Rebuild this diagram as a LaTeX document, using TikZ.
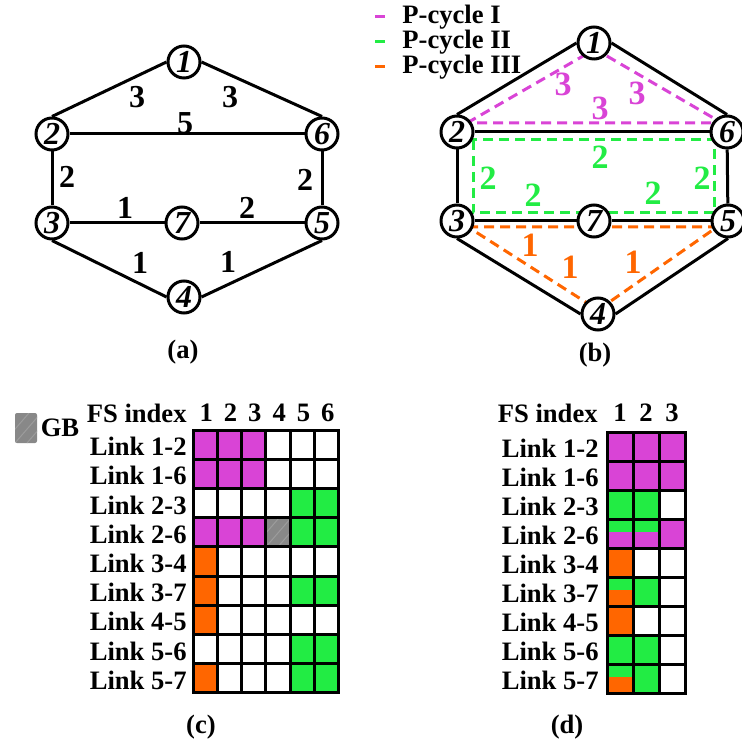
\documentclass[tikz,border=0pt]{standalone}
\usepackage{fontspec}
\setmainfont{Liberation Serif}
\usepackage{tikz}

\definecolor{pcmag}{RGB}{217,68,214}
\definecolor{pcgreen}{RGB}{34,236,68}
\definecolor{pcorange}{RGB}{255,102,0}
\definecolor{gbgray}{RGB}{136,136,136}

\begin{document}
\begin{tikzpicture}[x=0.5pt, y=-0.5pt,
	station/.style={circle, draw=black, line width=1.5pt, fill=white, minimum size=16pt, inner sep=0pt, font=\bfseries\itshape\fontsize{16}{16}\selectfont},
	link/.style={line width=1.5pt},
	weight/.style={inner sep=0pt, font=\bfseries\fontsize{16}{16}\selectfont},
	cweight/.style={inner sep=0pt, font=\bfseries\fontsize{17}{17}\selectfont},
	txt/.style={inner sep=0pt, font=\bfseries\fontsize{13.3}{15}\selectfont},
	pcycle/.style={line width=1.5pt, dash pattern=on 5pt off 3pt},
	hatch/.style={path picture={\foreach \d in {-6,0,6} \draw[gray!78, line width=0.5pt] ([xshift=\d pt]path picture bounding box.south west) -- ++(13pt,15pt);}},
	cellbase/.style={draw=black, line width=1.5pt},
	cellM/.style={fill=pcmag},
	cellG/.style={fill=pcgreen},
	cellO/.style={fill=pcorange},
	cellW/.style={fill=white},
	cellX/.style={fill=gbgray, hatch},
	cellGM/.style={fill=pcmag, path picture={\fill[pcgreen] (path picture bounding box.north west) rectangle ([yshift=-6.5pt]path picture bounding box.north east);}},
	cellGO/.style={fill=pcorange, path picture={\fill[pcgreen] (path picture bounding box.north west) rectangle ([yshift=-6.5pt]path picture bounding box.north east);}}
	]
	\useasboundingbox (0,0) rectangle (741,742);

	% (a) the network with link weights
	\node[station] (a1) at (184,62) {1};
	\node[station] (a2) at (52,134) {2};
	\node[station] (a6) at (322,134) {6};
	\node[station] (a3) at (52,223) {3};
	\node[station] (a7) at (182,223) {7};
	\node[station] (a5) at (322,223) {5};
	\node[station] (a4) at (184,297) {4};
	\draw[link] (a2.north) -- (a1.west);
	\draw[link] (a1.east) -- (a6.north);
	\draw[link] (a3.south) -- (a4.west);
	\draw[link] (a4.east) -- (a5.south);
	\foreach \u/\v in {2/6,2/3,6/5,3/7,7/5}
		\draw[link] (a\u) -- (a\v);
	\foreach \x/\y/\w [count=\i] in {137/97/3, 230/97/3, 185/123/5, 67/177/2, 305/180/2, 125/208/1, 247/208/2, 140/263/1, 228/262/1}
		\node[weight] (wa\i) at (\x,\y) {\w};
	\node[txt] (capa) at (183,352) {(a)};

	% (b) legend of the p-cycles
	\foreach \col/\name/\y [count=\i] in {pcmag/I/17, pcgreen/II/42, pcorange/III/67}{
		\coordinate (lg\i) at (375,\y);
		\draw[pcycle, \col] (lg\i) -- ++(14,0);
		\node[txt, anchor=west] (lgt\i) at (402,\y) {P-cycle \name};
	}

	% (b) p-cycles drawn under the stations
	\draw[pcycle, pcmag] (467,123) -- (590,52) -- (600,52) -- (722,123) -- cycle;
	\draw[pcycle, pcgreen] (473,140) rectangle (714,213);
	\draw[pcycle, pcorange] (468,227) -- (717,227) -- (598,310) -- cycle;

	% (b) the same network
	\node[station] (b1) at (594,43) {1};
	\node[station] (b2) at (457,132) {2};
	\node[station] (b6) at (727,132) {6};
	\node[station] (b3) at (457,221) {3};
	\node[station] (b7) at (594,221) {7};
	\node[station] (b5) at (728,221) {5};
	\node[station] (b4) at (598,314) {4};
	\draw[link] (b2.north) -- (b1.west);
	\draw[link] (b1.east) -- (b6.north);
	\draw[link] (b3.south) -- (b4.west);
	\draw[link] (b4.east) -- (b5.south);
	\foreach \u/\v in {2/6,2/3,6/5,3/7,7/5}
		\draw[link] (b\u) -- (b\v);
	\foreach \x/\y/\w/\col [count=\i] in {563/84/3/pcmag, 637/93/3/pcmag, 600/108/3/pcmag,
		600/157/2/pcgreen, 488/178/2/pcgreen, 702/178/2/pcgreen, 533/195/2/pcgreen, 653/193/2/pcgreen,
		530/245/1/pcorange, 570/267/1/pcorange, 633/262/1/pcorange}
		\node[cweight, text=\col] (wb\i) at (\x,\y) {\w};
	\node[txt] (capb) at (595,355) {(b)};

	% (c) spectrum use without sharing
	\node[cellX, rounded corners=1pt, minimum width=11pt, minimum height=15pt, inner sep=0pt] (gbkey) at (26,428) {};
	\node[txt, anchor=west] (gbtxt) at ([xshift=1.5pt]gbkey.east) {GB};
	\node[txt, anchor=east] (fsc) at (187,413) {FS index};
	\foreach \k in {1,...,6}
		\node[txt] (hc\k) at ({194+(\k-0.5)*24.33},413) {\k};
	\foreach \lk [count=\r] in {1-2,1-6,2-3,2-6,3-4,3-7,4-5,5-6,5-7}
		\node[txt, anchor=east] (rc\r) at (187,{430+(\r-0.5)*29.2+2}) {Link \lk};
	\foreach \cols [count=\r] in {{M,M,M,W,W,W},{M,M,M,W,W,W},{W,W,W,W,G,G},{M,M,M,X,G,G},{O,W,W,W,W,W},{O,W,W,W,G,G},{O,W,W,W,W,W},{W,W,W,W,G,G},{O,W,W,W,G,G}}
		\foreach \c [count=\k] in \cols
			\path[cellbase, cell\c] ({193+(\k-1)*24.33},{430+(\r-1)*29.2}) rectangle ++(24.33,29.2);
	\node[txt] (capc) at (201,727) {(c)};

	% (d) spectrum use with sharing
	\node[txt, anchor=east] (fsd) at (598,413) {FS index};
	\foreach \k in {1,...,3}
		\node[txt] (hd\k) at ({607+(\k-0.5)*26},413) {\k};
	\foreach \lk [count=\r] in {1-2,1-6,2-3,2-6,3-4,3-7,4-5,5-6,5-7}
		\node[txt, anchor=east] (rd\r) at (599,{432+(\r-0.5)*29+2}) {Link \lk};
	\foreach \cols [count=\r] in {{M,M,M},{M,M,M},{G,G,W},{GM,GM,M},{O,W,W},{GO,G,W},{O,W,W},{G,G,W},{GO,G,W}}
		\foreach \c [count=\k] in \cols
			\path[cellbase, cell\c] ({607+(\k-1)*26},{432+(\r-1)*29}) rectangle ++(26,29);
	\node[txt] (capd) at (567,727) {(d)};

\end{tikzpicture}
\end{document}
